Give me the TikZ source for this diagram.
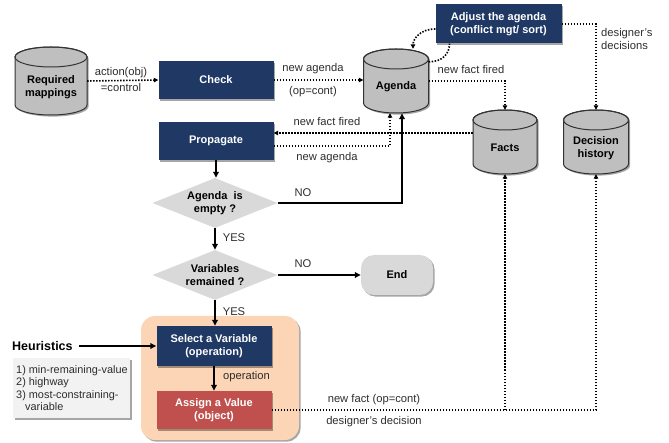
\documentclass[tikz,border=0pt]{standalone}
\usepackage{fontspec}
\setmainfont{Liberation Sans}
\usetikzlibrary{shapes.geometric,arrows.meta,shadows,calc}

\definecolor{navy}{RGB}{31,56,100}
\definecolor{brick}{RGB}{192,80,77}
\definecolor{peach}{RGB}{251,213,181}
\definecolor{cylgray}{RGB}{191,191,191}
\definecolor{diagray}{RGB}{217,217,217}
\definecolor{listgray}{RGB}{242,242,242}
\definecolor{lblgray}{RGB}{45,45,45}

\newcommand\bxfont{\fontsize{11}{13.5}\selectfont\bfseries}
\newcommand\lbfont{\fontsize{11.2}{13}\selectfont}

% database cylinder: name, cx, cy, width, height, text
\newcommand\dbcyl[6]{%
  \pgfmathsetmacro\dbrx{#4/2}%
  \pgfmathsetmacro\dbhh{#5/2}%
  \def\dbry{10}%
  \path[cylbody] (#2-\dbrx,#3-\dbhh+\dbry) -- (#2-\dbrx,#3+\dbhh-\dbry)
     arc[start angle=180,end angle=360,x radius=\dbrx pt,y radius=\dbry pt]
     -- (#2+\dbrx,#3-\dbhh+\dbry)
     arc[start angle=0,end angle=180,x radius=\dbrx pt,y radius=\dbry pt] -- cycle;
  \draw[cylline] (#2,#3-\dbhh+\dbry) ellipse[x radius=\dbrx pt,y radius=\dbry pt];
  \node[minimum width=#4pt,minimum height=#5pt,inner sep=0pt] (#1) at (#2,#3) {};
  \node[font=\bxfont,align=center,text=black] at (#2,#3+6) {#6};
}

\tikzset{
  softshadow/.style={drop shadow={shadow xshift=1.6pt,shadow yshift=-1.6pt,opacity=0.35,fill=black}},
  cylbody/.style={fill=cylgray,draw=black!80,line width=1pt,softshadow},
  cylline/.style={draw=black!80,line width=1pt},
  navybox/.style={fill=navy,text=white,font=\bxfont,align=center,minimum width=115pt,minimum height=38pt,inner sep=2pt,softshadow},
  redbox/.style={navybox,fill=brick},
  decision/.style={diamond,fill=diagray,font=\bxfont,align=center,minimum width=125pt,minimum height=50pt,shape aspect=2.5,inner sep=0pt},
  endbox/.style={fill=diagray,rounded corners=13pt,font=\bxfont,minimum width=72pt,minimum height=40pt,softshadow},
  lbl/.style={font=\lbfont,text=lblgray,inner sep=1pt},
  dotarrow/.style={line width=1.6pt,dash pattern=on 1.5pt off 1.5pt,draw=black,-{Triangle[length=4.5pt,width=4.5pt]}},
  dotline/.style={line width=1.6pt,dash pattern=on 1.5pt off 1.5pt,draw=black},
  flow/.style={line width=1.5pt,draw=black,-{Triangle[length=6pt,width=5.5pt]}}
}

\begin{document}
\begin{tikzpicture}[x=1pt,y=-1pt]
\useasboundingbox (0,0) rectangle (669,443);

% grouping panel behind the selection steps
\path[fill=peach,rounded corners=14pt,softshadow] (141,316) rectangle (299,440);

% data stores
\dbcyl{req}{51}{81}{72}{68}{Required\\mappings}
\dbcyl{agenda}{396}{81}{65}{64}{Agenda}
\dbcyl{facts}{505}{142}{64}{64}{Facts}
\dbcyl{dec}{596}{142}{65}{64}{Decision\\history}

% process boxes
\node[navybox] (check) at (216,80) {Check};
\node[navybox] (prop) at (216,141) {Propagate};
\node[navybox,minimum width=126pt,minimum height=39pt] (adjust) at (498.5,24) {Adjust the agenda\\(conflict mgt/ sort)};
\node[decision] (d1) at (215,203) {Agenda\ \ is\\empty ?};
\node[decision] (d2) at (215,275) {Variables\\remained ?};
\node[endbox] (end) at (397,275) {End};
\node[navybox,minimum height=40pt] (sel) at (214,346) {Select a Variable\\(operation)};
\node[redbox,minimum height=38pt] (assign) at (214,410) {Assign a Value\\(object)};

% heuristics
\node[font=\fontsize{12.5}{15}\selectfont\bfseries,anchor=west,inner sep=0pt] (heur) at (12,346) {Heuristics};
\path[fill=listgray,softshadow] (13,358) rectangle (130,418);
\node[font=\fontsize{10.9}{12.5}\selectfont,align=left,anchor=west,inner sep=0pt,text=lblgray] (hlist) at (16,388)
  {1) min-remaining-value\\2) highway\\3) most-constraining-\\\hspace{9pt}variable};

% solid flow
\draw[flow] (prop.south) -- (d1.north -| prop.south);
\draw[flow] (d1.south) -- (d2.north);
\draw[flow] (d2.east) -- (end.west);
\draw[flow] (d2.south) -- (sel.north -| d2.south);
\draw[flow] (sel.south) -- (assign.north);
\draw[flow,shorten <=6pt] (heur.east) -- (sel.west);
\draw[flow] (d1.east) -| ([xshift=6pt]agenda.south);

% dotted information flow
\draw[dotarrow] (req.east) -- (check.west);
\draw[dotarrow] (check.east) -- (check.east -| agenda.west);
\draw[dotarrow] (agenda.east) -| (facts.north);
\draw[dotarrow] ([yshift=9pt]facts.west) -- ([yshift=9pt]facts.west -| prop.east);
\draw[dotarrow] ([yshift=-5pt]prop.east) -| ([xshift=-6pt]agenda.south);
\draw[dotarrow] ([yshift=-5pt]adjust.west) .. controls +(-16,0) and +(0,-9) .. ([xshift=17pt]agenda.north);
\draw[dotline] ([yshift=-13pt]agenda.north east) .. controls +(14,0) and +(0,10) .. ([xshift=-49pt]adjust.south);
\draw[dotarrow] (adjust.east) -| (dec.north);
\draw[dotarrow] (assign.east) -| (dec.south);
\draw[dotarrow] (assign.east -| facts.south) -- (facts.south);

% connector labels
\node[lbl] at (121,73) {action(obj)};
\node[lbl] at (121,88) {=control};
\node[lbl] at (313,69) {new agenda};
\node[lbl] at (313,92) {(op=cont)};
\node[lbl] at (471,70) {new fact fired};
\node[lbl,align=left,anchor=west] at (600,39) {designer’s\\decisions};
\node[lbl] at (327,122) {new fact fired};
\node[lbl] at (327,158) {new agenda};
\node[lbl] at (303,193) {NO};
\node[lbl] at (234,238) {YES};
\node[lbl] at (303,264) {NO};
\node[lbl] at (234,312) {YES};
\node[lbl,anchor=west] at (222,377) {operation};
\node[lbl] at (374,400) {new fact (op=cont)};
\node[lbl] at (374,422) {designer’s decision};
\end{tikzpicture}
\end{document}
